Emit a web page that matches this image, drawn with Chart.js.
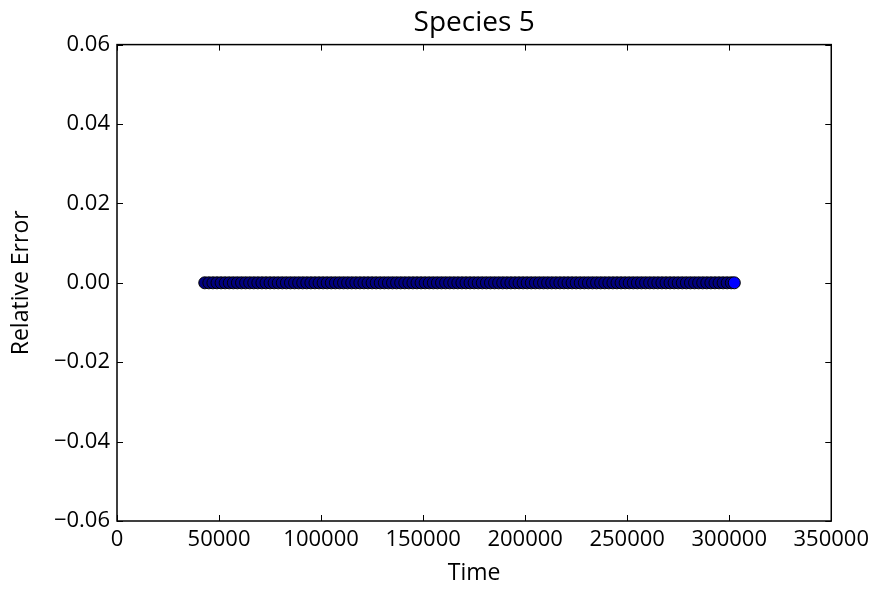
<!DOCTYPE html>
<html>
<head>
<meta charset="utf-8">
<script src="https://cdn.jsdelivr.net/npm/chart.js@4/dist/chart.umd.min.js"></script>
<style>
    html, body { margin: 0; padding: 0; background: #fff; }
    #wrap { width: 875px; height: 589px; }
</style>
</head>
<body>
<div id="wrap"><canvas id="chart" width="875" height="589"></canvas></div>
<script>
    // values
    var times = [
        43000, 45000, 47000, 49000, 51000, 53000, 55000, 57000, 59000, 61000,
        63000, 65000, 67000, 69000, 71000, 73000, 75000, 77000, 79000, 81000,
        83000, 85000, 87000, 89000, 91000, 93000, 95000, 97000, 99000, 101000,
        103000, 105000, 107000, 109000, 111000, 113000, 115000, 117000, 119000, 121000,
        123000, 125000, 127000, 129000, 131000, 133000, 135000, 137000, 139000, 141000,
        143000, 145000, 147000, 149000, 151000, 153000, 155000, 157000, 159000, 161000,
        163000, 165000, 167000, 169000, 171000, 173000, 175000, 177000, 179000, 181000,
        183000, 185000, 187000, 189000, 191000, 193000, 195000, 197000, 199000, 201000,
        203000, 205000, 207000, 209000, 211000, 213000, 215000, 217000, 219000, 221000,
        223000, 225000, 227000, 229000, 231000, 233000, 235000, 237000, 239000, 241000,
        243000, 245000, 247000, 249000, 251000, 253000, 255000, 257000, 259000, 261000,
        263000, 265000, 267000, 269000, 271000, 273000, 275000, 277000, 279000, 281000,
        283000, 285000, 287000, 289000, 291000, 293000, 295000, 297000, 299000, 301000,
        302500
    ];
    var relErrors = [
        0, 0, 0, 0, 0, 0, 0, 0, 0, 0,
        0, 0, 0, 0, 0, 0, 0, 0, 0, 0,
        0, 0, 0, 0, 0, 0, 0, 0, 0, 0,
        0, 0, 0, 0, 0, 0, 0, 0, 0, 0,
        0, 0, 0, 0, 0, 0, 0, 0, 0, 0,
        0, 0, 0, 0, 0, 0, 0, 0, 0, 0,
        0, 0, 0, 0, 0, 0, 0, 0, 0, 0,
        0, 0, 0, 0, 0, 0, 0, 0, 0, 0,
        0, 0, 0, 0, 0, 0, 0, 0, 0, 0,
        0, 0, 0, 0, 0, 0, 0, 0, 0, 0,
        0, 0, 0, 0, 0, 0, 0, 0, 0, 0,
        0, 0, 0, 0, 0, 0, 0, 0, 0, 0,
        0, 0, 0, 0, 0, 0, 0, 0, 0, 0,
        0
    ];
    var xTicks = [0, 50000, 100000, 150000, 200000, 250000, 300000, 350000];
    var yTicks = [-0.06, -0.04, -0.02, 0.00, 0.02, 0.04, 0.06];

    var FONT = "'Open Sans', 'Noto Sans', sans-serif";

    var points = [];
    for (var i = 0; i < times.length; i++) {
        points.push({x: times[i], y: relErrors[i]});
    }

    // matplotlib classic frame with inward ticks on all four sides
    var framePlugin = {
        id: 'frame',
        afterDatasetsDraw: function(chart) {
            var ctx = chart.ctx;
            var a = chart.chartArea;
            var xs = chart.scales.x, ys = chart.scales.y;
            var len = 6;
            ctx.save();
            ctx.strokeStyle = '#000';
            ctx.lineWidth = 1;
            ctx.beginPath();
            xTicks.forEach(function(v) {
                var px = Math.round(xs.getPixelForValue(v)) + 0.5;
                ctx.moveTo(px, a.bottom); ctx.lineTo(px, a.bottom - len);
                ctx.moveTo(px, a.top); ctx.lineTo(px, a.top + len);
            });
            yTicks.forEach(function(v) {
                var py = Math.round(ys.getPixelForValue(v)) + 0.5;
                ctx.moveTo(a.left, py); ctx.lineTo(a.left + len, py);
                ctx.moveTo(a.right, py); ctx.lineTo(a.right - len, py);
            });
            ctx.stroke();
            ctx.lineWidth = 1.5;
            ctx.strokeRect(a.left, a.top, a.right - a.left, a.bottom - a.top);
            ctx.restore();
        }
    };

    function fmtY(v) {
        return v.toFixed(2).replace('-', '\u2212');
    }

    // jet colormap look: all points navy, the last one a brighter blue
    function pointFill(ctx) {
        return ctx.dataIndex === times.length - 1 ? '#0000ff' : '#000080';
    }

    new Chart(document.getElementById('chart').getContext('2d'), {
        type: 'scatter',
        data: {
            datasets: [{
                data: points,
                backgroundColor: pointFill,
                borderColor: '#000000',
                borderWidth: 1,
                pointRadius: 6,
                pointHoverRadius: 6
            }]
        },
        options: {
            responsive: false,
            animation: false,
            layout: { padding: { left: 0, right: 43, top: 0, bottom: 0 } },
            plugins: {
                legend: { display: false },
                tooltip: { enabled: false },
                title: {
                    display: true,
                    fullSize: false,
                    text: 'Species 5',
                    color: '#000',
                    font: { family: FONT, size: 28, weight: 'normal' },
                    padding: { top: 6, bottom: 5 }
                }
            },
            scales: {
                x: {
                    type: 'linear',
                    min: 0,
                    max: 350000,
                    afterBuildTicks: function(s) { s.ticks = xTicks.map(function(v) { return {value: v}; }); },
                    afterFit: function(s) { s.height = 68; },
                    grid: { display: false, drawTicks: false },
                    border: { display: false },
                    ticks: {
                        color: '#000',
                        padding: 6,
                        maxRotation: 0,
                        autoSkip: false,
                        font: { family: FONT, size: 22 },
                        callback: function(v) { return String(v); }
                    },
                    title: {
                        display: true,
                        text: 'Time',
                        color: '#000',
                        font: { family: FONT, size: 23 },
                        padding: { top: 0, bottom: 2 }
                    }
                },
                y: {
                    type: 'linear',
                    min: -0.06,
                    max: 0.06,
                    afterBuildTicks: function(s) { s.ticks = yTicks.map(function(v) { return {value: v}; }); },
                    afterFit: function(s) { s.width = 117; },
                    grid: { display: false, drawTicks: false },
                    border: { display: false },
                    ticks: {
                        color: '#000',
                        padding: 7,
                        autoSkip: false,
                        font: { family: FONT, size: 22 },
                        callback: function(v) { return fmtY(v); }
                    },
                    title: {
                        display: true,
                        text: 'Relative Error',
                        color: '#000',
                        font: { family: FONT, size: 23 },
                        padding: { top: 8, bottom: 0 }
                    }
                }
            }
        },
        plugins: [framePlugin]
    });
</script>
</body>
</html>
